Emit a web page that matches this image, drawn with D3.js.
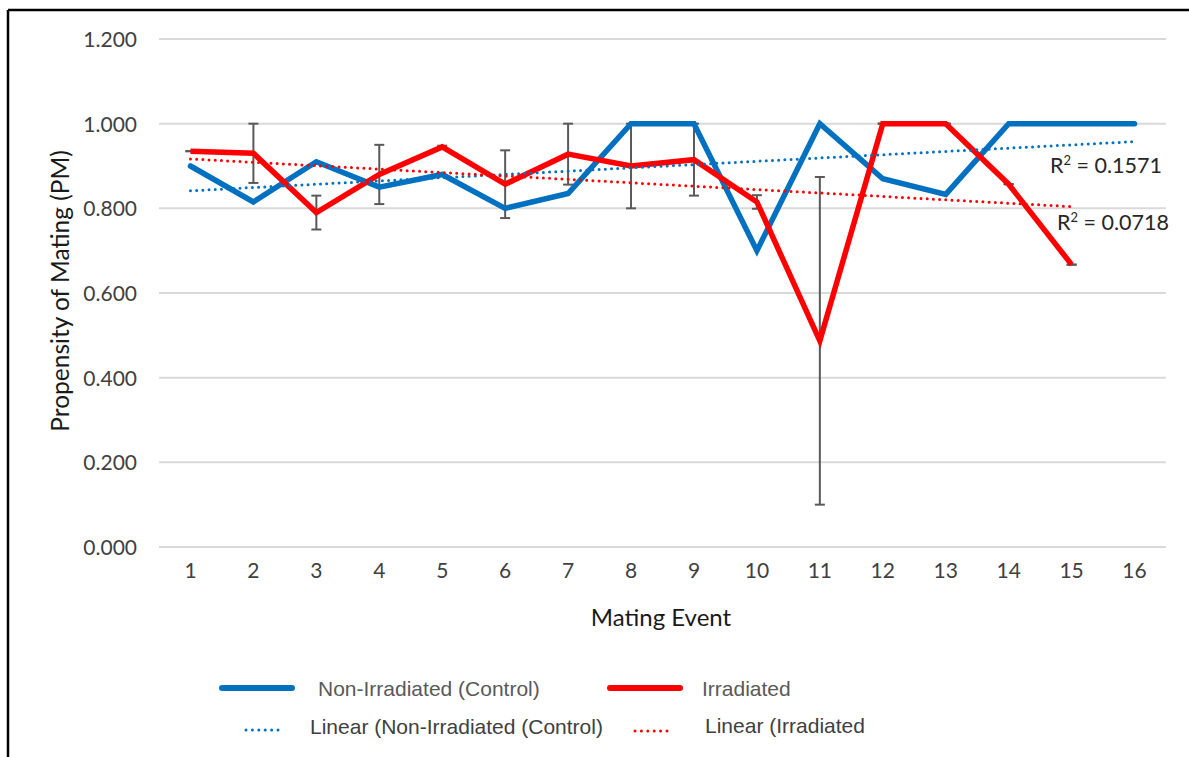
<!DOCTYPE html>
<html>
<head>
<meta charset="utf-8">
<script src="https://cdn.jsdelivr.net/npm/d3@7"></script>
<style>
  html, body { margin: 0; padding: 0; background: #fff; }
  svg { display: block; }
</style>
</head>
<body>
<svg id="chart" width="1189" height="757"></svg>
<script>
// Mating events on the x axis
const events = [1, 2, 3, 4, 5, 6, 7, 8, 9, 10, 11, 12, 13, 14, 15, 16];

// Propensity of mating per event
const controlPM    = [0.900, 0.815, 0.910, 0.850, 0.880, 0.800, 0.835, 1.000, 1.000, 0.700, 1.000, 0.870, 0.833, 1.000, 1.000, 1.000];
const irradiatedPM = [0.935, 0.930, 0.790, 0.880, 0.945, 0.857, 0.928, 0.900, 0.915, 0.815, 0.487, 1.000, 1.000, 0.857, 0.667, null];

// Error (±) on the irradiated series
const irradiatedErr = [0.000, 0.070, 0.040, 0.070, 0.003, 0.080, 0.072, 0.100, 0.085, 0.016, 0.387, 0.000, 0.000, 0.000, 0.000, null];

// Y axis ticks
const yTicks = [0, 0.2, 0.4, 0.6, 0.8, 1.0, 1.2];

// Trendline fit statistics (R squared values)
const r2Values = ["0.1571", "0.0718"];

const legendLabels = [
  "Non-Irradiated (Control)",
  "Irradiated",
  "Linear (Non-Irradiated (Control)",
  "Linear (Irradiated"
];

const BLUE = "#0070C0";
const RED = "#FF0000";
const FONT = "Lato, 'Open Sans', sans-serif";

const svg = d3.select("#chart");

// frame
svg.append("line").attr("x1", 8).attr("x2", 1189).attr("y1", 10).attr("y2", 10)
  .attr("stroke", "#000").attr("stroke-width", 2.5);
svg.append("line").attr("x1", 8).attr("x2", 8).attr("y1", 10).attr("y2", 757)
  .attr("stroke", "#000").attr("stroke-width", 2.5);

const x = d3.scaleBand().domain(events).range([159, 1166]).padding(0);
const xc = d => x(d) + x.bandwidth() / 2;
const y = d3.scaleLinear().domain([0, 1.2]).range([547, 39]);

// gridlines
svg.append("g").selectAll("line").data(yTicks).join("line")
  .attr("x1", 159).attr("x2", 1166)
  .attr("y1", d => y(d)).attr("y2", d => y(d))
  .attr("stroke", "#d9d9d9").attr("stroke-width", 2);

// y tick labels
const yAxis = d3.axisLeft(y).tickValues(yTicks).tickFormat(d3.format(".3f")).tickSize(0).tickPadding(0);
const gy = svg.append("g").attr("transform", "translate(137,0)").call(yAxis);
gy.select(".domain").remove();
gy.selectAll("text").attr("font-family", FONT).attr("font-size", 21)
  .attr("fill", "#404040").attr("dy", "0.35em");

// x tick labels
const xAxis = d3.axisBottom(x).tickSize(0).tickPadding(0);
const gx = svg.append("g").attr("transform", "translate(0,571)").call(xAxis);
gx.select(".domain").remove();
gx.selectAll("text").attr("font-family", FONT).attr("font-size", 21)
  .attr("fill", "#404040").attr("dy", "0.35em");

// axis titles
svg.append("text").attr("x", 661).attr("y", 626).attr("text-anchor", "middle")
  .attr("font-family", FONT).attr("font-size", 24).attr("fill", "#1a1a1a")
  .text("Mating Event");
svg.append("text").attr("transform", "translate(69,291) rotate(-90)").attr("text-anchor", "middle")
  .attr("font-family", FONT).attr("font-size", 24.5).attr("fill", "#1a1a1a")
  .text("Propensity of Mating (PM)");

// error bars (irradiated)
const errData = events.map((e, i) => ({ e, v: irradiatedPM[i], err: irradiatedErr[i] }))
  .filter(d => d.v != null && d.err != null);
const eg = svg.append("g").attr("stroke", "#595959").attr("stroke-width", 2);
eg.selectAll("line.v").data(errData).join("line").attr("class", "v")
  .attr("x1", d => xc(d.e)).attr("x2", d => xc(d.e))
  .attr("y1", d => y(d.v + d.err)).attr("y2", d => y(d.v - d.err));
eg.selectAll("line.t").data(errData).join("line").attr("class", "t")
  .attr("x1", d => xc(d.e) - 5).attr("x2", d => xc(d.e) + 5)
  .attr("y1", d => y(d.v + d.err)).attr("y2", d => y(d.v + d.err));
eg.selectAll("line.b").data(errData).join("line").attr("class", "b")
  .attr("x1", d => xc(d.e) - 5).attr("x2", d => xc(d.e) + 5)
  .attr("y1", d => y(d.v - d.err)).attr("y2", d => y(d.v - d.err));

// series lines
const line = d3.line().defined(d => d[1] != null).x(d => xc(d[0])).y(d => y(d[1]));
svg.append("path").datum(events.map((e, i) => [e, controlPM[i]]))
  .attr("d", line).attr("fill", "none").attr("stroke", BLUE).attr("stroke-width", 5.5)
  .attr("stroke-linecap", "round").attr("stroke-linejoin", "miter");
svg.append("path").datum(events.map((e, i) => [e, irradiatedPM[i]]))
  .attr("d", line).attr("fill", "none").attr("stroke", RED).attr("stroke-width", 5.5)
  .attr("stroke-linecap", "butt").attr("stroke-linejoin", "miter");

// least-squares linear trendline through the present points
function fit(vals) {
  const pts = events.map((e, i) => [e, vals[i]]).filter(p => p[1] != null);
  const mx = d3.mean(pts, p => p[0]), my = d3.mean(pts, p => p[1]);
  const sxy = d3.sum(pts, p => (p[0] - mx) * (p[1] - my));
  const sxx = d3.sum(pts, p => (p[0] - mx) ** 2);
  const b = sxy / sxx, a = my - b * mx;
  const x0 = pts[0][0], x1 = pts[pts.length - 1][0];
  return [[x0, a + b * x0], [x1, a + b * x1]];
}
const trendLine = d3.line().x(d => xc(d[0])).y(d => y(d[1]));
[[controlPM, BLUE], [irradiatedPM, RED]].forEach(([vals, col]) => {
  const seg = fit(vals);
  svg.append("path").attr("d", trendLine(seg)).attr("fill", "none").attr("stroke", col)
    .attr("stroke-width", 3).attr("stroke-linecap", "round").attr("stroke-dasharray", "0 6.2");
});

// R² labels
[[1050, 173, r2Values[0]], [1057, 230, r2Values[1]]].forEach(([lx, ly, v]) => {
  const t = svg.append("text").attr("x", lx).attr("y", ly).attr("font-family", FONT)
    .attr("font-size", 21.5).attr("fill", "#262626");
  t.append("tspan").text("R");
  t.append("tspan").attr("font-size", 13).attr("dy", -8).text("2");
  t.append("tspan").attr("dy", 8).text(" = " + v);
});

// legend
const lg = svg.append("g").attr("font-family", "'Liberation Sans', Arial, sans-serif").attr("font-size", 21);
const legendItems = [
  { x1: 222, x2: 292, ly: 688, tx: 318, ty: 696, col: BLUE, dotted: false, tcol: "#595959", label: legendLabels[0] },
  { x1: 610, x2: 680, ly: 688, tx: 702, ty: 696, col: RED, dotted: false, tcol: "#595959", label: legendLabels[1] },
  { x1: 246, x2: 284, ly: 730, tx: 310, ty: 734, col: BLUE, dotted: true, tcol: "#404040", label: legendLabels[2] },
  { x1: 635, x2: 668, ly: 731, tx: 705, ty: 733, col: RED, dotted: true, tcol: "#404040", label: legendLabels[3] }
];
legendItems.forEach(d => {
  const l = lg.append("line").attr("x1", d.x1).attr("x2", d.x2).attr("y1", d.ly).attr("y2", d.ly)
    .attr("stroke", d.col).attr("stroke-linecap", "round");
  if (d.dotted) l.attr("stroke-width", 3).attr("stroke-dasharray", "0 6.4");
  else l.attr("stroke-width", 6);
  lg.append("text").attr("x", d.tx).attr("y", d.ty).attr("fill", d.tcol).text(d.label);
});
</script>
</body>
</html>
